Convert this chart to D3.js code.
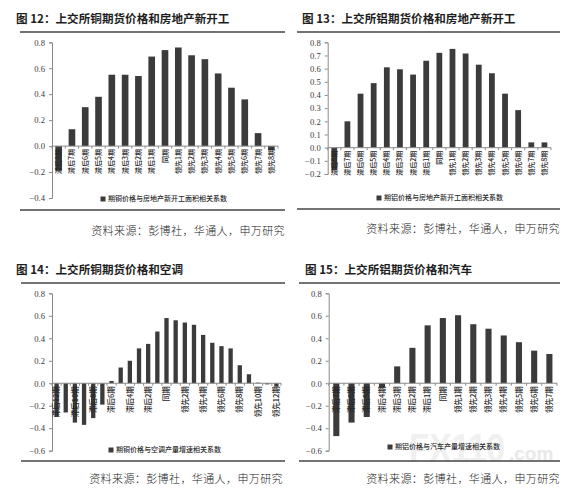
<!DOCTYPE html>
<html>
<head>
<meta charset="utf-8">
<script src="https://cdn.jsdelivr.net/npm/d3@7"></script>
<style>
  html, body { margin: 0; padding: 0; background: #fff; }
  svg { display: block; }
</style>
</head>
<body>
<svg id="chart" width="584" height="493"></svg>
<script>
// ---------- data ----------
const catsHousing = ["滞后8期","滞后7期","滞后6期","滞后5期","滞后4期","滞后3期","滞后2期","滞后1期","同期",
  "领先1期","领先2期","领先3期","领先4期","领先5期","领先6期","领先7期","领先8期"];
const copperHousing = [-0.19, 0.13, 0.30, 0.38, 0.55, 0.55, 0.54, 0.69, 0.74, 0.76, 0.70, 0.67, 0.56, 0.45, 0.36, 0.10, -0.03];
const aluminumHousing = [-0.17, 0.20, 0.41, 0.49, 0.61, 0.595, 0.555, 0.66, 0.72, 0.75, 0.715, 0.63, 0.565, 0.41, 0.285, 0.04, 0.04];

const catsAC = ["滞后12期","滞后11期","滞后10期","滞后9期","滞后8期","滞后7期","滞后6期","滞后5期","滞后4期","滞后3期","滞后2期","滞后1期","同期",
  "领先1期","领先2期","领先3期","领先4期","领先5期","领先6期","领先7期","领先8期","领先9期","领先10期","领先11期","领先12期"];
const copperAC = [-0.30, -0.26, -0.35, -0.37, -0.31, -0.19, 0.02, 0.14, 0.20, 0.31, 0.35, 0.46, 0.58, 0.56, 0.54, 0.52, 0.43, 0.36, 0.33, 0.31, 0.16, 0.08, 0.005, -0.01, -0.03];

const catsAuto = ["滞后7期","滞后6期","滞后5期","滞后4期","滞后3期","滞后2期","滞后1期","同期",
  "领先1期","领先2期","领先3期","领先4期","领先5期","领先6期","领先7期"];
const aluminumAuto = [-0.47, -0.35, -0.30, -0.04, 0.15, 0.315, 0.515, 0.58, 0.605, 0.525, 0.485, 0.425, 0.365, 0.29, 0.26];

const ticksA = [-0.4, -0.2, 0.0, 0.2, 0.4, 0.6, 0.8];
const ticksB = [-0.2, -0.1, 0.0, 0.1, 0.2, 0.3, 0.4, 0.5, 0.6, 0.7, 0.8];
const ticksC = [-0.6, -0.4, -0.2, 0.0, 0.2, 0.4, 0.6, 0.8];

const titles = ["图 12：上交所铜期货价格和房地产新开工", "图 13：上交所铝期货价格和房地产新开工",
  "图 14：上交所铜期货价格和空调", "图 15：上交所铝期货价格和汽车"];
const legends = ["期铜价格与房地产新开工面积相关系数", "期铝价格与房地产新开工面积相关系数",
  "期铜价格与空调产量增速相关系数", "期铝价格与汽车产量增速相关系数"];
const sourceText = "资料来源：彭博社，华通人，申万研究";

// ---------- drawing ----------
const svg = d3.select("#chart");
const CJK = "'Noto Sans CJK SC', 'Noto Sans', sans-serif";
const SERIF = "'Liberation Serif', 'DejaVu Serif', serif";
const BAR = "#3b3b3b";

// watermark (drawn first so chart text stays on top)
const wm = svg.append("g");
wm.append("text").attr("x", 409).attr("y", 462).attr("textLength", 96).attr("lengthAdjust", "spacingAndGlyphs")
  .attr("font-family", "'Liberation Sans', Arial, sans-serif").attr("font-weight", 700).attr("font-size", 40)
  .attr("fill", "#f0f0f0").text("FX110");
wm.append("text").attr("x", 509).attr("y", 460)
  .attr("font-family", "'Liberation Sans', Arial, sans-serif").attr("font-weight", 700).attr("font-size", 19)
  .attr("fill", "#e9e9e9").text(".com");

const panels = [
  { title: titles[0], legend: legends[0], cats: catsHousing, vals: copperHousing, ticks: ticksA, fmt: d3.format(".1f"),
    tx: 16, ty: 23, lineX: [20, 285], lineTop: 32, lineBot: 210, srcX: 285, srcY: 235,
    x0: 52, x1: 278, yTop: 42.3, yBot: 198, dom: [-0.4, 0.8], pad: 0.5, labelEvery: 1, lfs: 7,
    legX: 103, legY: 199 },
  { title: titles[1], legend: legends[1], cats: catsHousing, vals: aluminumHousing, ticks: ticksB, fmt: d3.format(".1f"),
    tx: 302, ty: 23, lineX: [297, 560], lineTop: 32, lineBot: 209, srcX: 560, srcY: 233,
    x0: 327.7, x1: 551, yTop: 42.3, yBot: 174, dom: [-0.2, 0.8], pad: 0.56, labelEvery: 1, lfs: 7,
    legX: 379, legY: 198 },
  { title: titles[2], legend: legends[2], cats: catsAC, vals: copperAC, ticks: ticksC, fmt: d3.format(".1f"),
    tx: 16, ty: 274, lineX: [21, 285], lineTop: 283, lineBot: 461, srcX: 283, srcY: 483,
    x0: 52, x1: 281, yTop: 293.3, yBot: 450.7, dom: [-0.6, 0.8], pad: 0.53, labelEvery: 2, lfs: 7.5,
    legX: 111, legY: 450 },
  { title: titles[3], legend: legends[3], cats: catsAuto, vals: aluminumAuto, ticks: ticksC, fmt: d3.format(".1f"),
    tx: 305, ty: 274, lineX: [299, 560], lineTop: 283, lineBot: 461, srcX: 560, srcY: 483,
    x0: 328.7, x1: 557, yTop: 293.3, yBot: 450.7, dom: [-0.6, 0.8], pad: 0.6, labelEvery: 1, lfs: 7.5,
    legX: 390, legY: 447 }
];

panels.forEach((p, pi) => {
  const g = svg.append("g");

  // title
  g.append("text").attr("x", p.tx).attr("y", p.ty)
    .attr("font-family", CJK).attr("font-size", 11.6).attr("font-weight", 700)
    .attr("fill", "#1e1e1e").text(p.title);

  // rules
  [p.lineTop, p.lineBot].forEach(yy => {
    g.append("line").attr("x1", p.lineX[0]).attr("x2", p.lineX[1]).attr("y1", yy).attr("y2", yy)
      .attr("stroke", "#444").attr("stroke-width", 1.6);
  });

  // source
  g.append("text").attr("x", p.srcX).attr("y", p.srcY).attr("text-anchor", "end")
    .attr("font-family", CJK).attr("font-size", 11).attr("font-weight", 300)
    .attr("letter-spacing", 0.4).attr("fill", "#222").text(sourceText);

  // scales
  const y = d3.scaleLinear().domain(p.dom).range([p.yBot, p.yTop]);
  const x = d3.scaleBand().domain(p.cats).range([p.x0, p.x1])
    .paddingInner(p.pad).paddingOuter(p.pad / 2);

  // y axis
  const yAxis = d3.axisLeft(y).tickValues(p.ticks).tickFormat(p.fmt).tickSize(3).tickPadding(4);
  const ya = g.append("g").attr("transform", `translate(${p.x0},0)`).call(yAxis);
  ya.select(".domain").attr("stroke", "#8a8a8a");
  ya.selectAll(".tick line").attr("stroke", "#8a8a8a");
  ya.selectAll(".tick text").attr("font-family", SERIF).attr("font-size", 8.6).attr("fill", "#3a3a3a");

  // bars
  g.append("g").selectAll("rect").data(p.vals).join("rect")
    .attr("x", (d, i) => x(p.cats[i]))
    .attr("width", x.bandwidth())
    .attr("y", d => Math.min(y(d), y(0)))
    .attr("height", d => Math.abs(y(d) - y(0)))
    .attr("fill", BAR);

  // x axis line at 0
  const y0 = y(0);
  g.append("line").attr("x1", p.x0).attr("x2", p.x1).attr("y1", y0).attr("y2", y0)
    .attr("stroke", "#8a8a8a").attr("stroke-width", 1);
  g.append("g").selectAll("line").data(d3.range(p.cats.length + 1)).join("line")
    .attr("x1", i => p.x0 + i * x.step()).attr("x2", i => p.x0 + i * x.step())
    .attr("y1", y0).attr("y2", y0 + 2.5).attr("stroke", "#8a8a8a");

  // x labels (vertical)
  g.append("g").selectAll("text").data(p.cats.filter((c, i) => i % p.labelEvery === 0)).join("text")
    .attr("transform", c => `translate(${x(c) + x.bandwidth() / 2},${y0 + 3}) rotate(-90)`)
    .attr("text-anchor", "end").attr("dy", "0.36em")
    .attr("font-family", CJK).attr("font-size", p.lfs).attr("font-weight", 500).attr("fill", "#262626")
    .text(c => c);

  // legend
  g.append("rect").attr("x", p.legX - 2.5).attr("y", p.legY - 2.5).attr("width", 5).attr("height", 5).attr("fill", BAR);
  g.append("text").attr("x", p.legX + 5).attr("y", p.legY).attr("dy", "0.35em")
    .attr("font-family", CJK).attr("font-size", 7).attr("font-weight", 500).attr("fill", "#2a2a2a").text(p.legend);
});
</script>
</body>
</html>
